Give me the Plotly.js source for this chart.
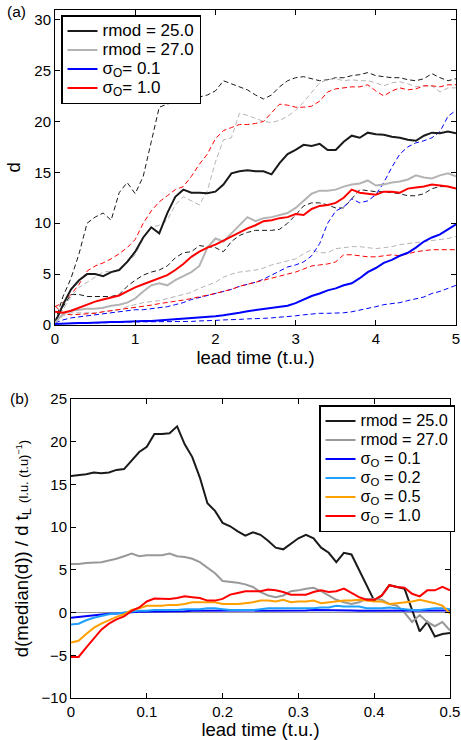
<!DOCTYPE html>
<html><head><meta charset="utf-8">
<script src="https://cdn.plot.ly/plotly-3.0.1.min.js"></script>
<style>html,body{margin:0;padding:0;background:#fff}#chart{width:461px;height:740px}</style>
</head><body><div id="chart"></div>
<script>
// ---------- panel (a): d vs lead time ----------
const tA = [0,0.1,0.2,0.3,0.4,0.5,0.6,0.7,0.8,0.9,1.0,1.1,1.2,1.3,1.4,1.5,1.6,1.7,1.8,1.9,2.0,2.1,2.2,2.3,2.4,2.5,2.6,2.7,2.8,2.9,3.0,3.1,3.2,3.3,3.4,3.5,3.6,3.7,3.8,3.9,4.0,4.1,4.2,4.3,4.4,4.5,4.6,4.7,4.8,4.9,5.0];

const rmod25Median = [0.2,2.0,3.5,4.4,5.0,5.0,4.8,5.2,5.4,6.2,7.2,8.6,9.6,9.0,11.0,12.6,13.3,13.0,13.0,12.95,13.1,13.8,14.9,15.1,15.2,15.1,15.1,14.8,15.9,16.8,17.2,17.7,17.6,17.8,17.2,17.2,18.0,18.6,18.4,18.9,18.75,18.7,18.5,18.4,18.2,18.1,18.6,18.9,18.85,19.0,18.85];
const rmod25Upper  = [0.3,2.8,4.6,7.0,10.0,10.6,11.0,10.3,13.0,14.0,12.9,14.6,18.0,21.4,21.7,22.0,22.4,22.3,22.4,22.6,23.0,24.0,23.7,23.4,23.1,22.6,22.2,22.6,23.4,24.0,24.3,24.4,24.2,24.0,24.1,24.3,24.3,24.5,24.6,24.8,24.5,24.4,24.3,24.3,24.1,24.0,24.2,24.7,24.3,24.0,24.2];
const rmod25Lower  = [0.3,1.8,3.0,3.0,2.8,2.8,2.8,2.8,3.0,3.8,4.4,4.9,5.2,5.4,5.8,6.6,7.1,7.2,7.8,7.7,7.6,7.2,8.2,8.8,9.1,9.3,9.3,9.3,9.4,10.0,10.8,11.7,12.0,12.0,11.8,11.5,11.5,12.4,13.3,13.2,13.1,13.1,13.0,12.9,12.7,12.7,12.9,13.4,13.6,13.6,13.4];

const rmod27Median = [0.2,1.1,1.4,1.5,1.6,1.6,1.7,1.9,2.0,2.2,2.6,3.3,3.9,4.1,3.9,4.4,4.8,5.2,5.8,7.6,8.5,8.2,9.0,9.8,10.6,10.2,10.5,10.6,10.8,11.0,11.5,12.2,12.9,13.2,13.2,13.3,13.6,13.8,13.9,14.2,13.7,13.8,14.0,14.1,14.3,14.7,14.5,14.4,14.7,14.9,14.6];
const rmod27Upper  = [0.4,1.5,2.8,3.7,4.2,4.7,5.2,5.3,5.4,6.1,6.9,8.5,9.6,9.8,10.3,11.8,12.6,12.2,11.8,13.2,16.0,18.2,18.4,20.8,20.6,20.3,20.0,19.9,20.1,20.5,21.1,21.9,22.9,23.8,24.1,24.2,24.0,24.1,24.0,24.0,23.8,23.5,23.8,23.9,23.7,23.4,23.5,23.5,22.9,23.3,23.3];
const rmod27Lower  = [0.3,0.9,1.2,1.2,1.2,1.2,1.3,1.4,1.5,1.8,2.0,2.2,2.3,2.4,2.6,2.8,3.0,3.2,3.6,3.9,4.2,4.7,5.0,5.2,5.3,5.4,5.6,5.9,6.1,6.3,6.5,7.0,7.4,7.1,7.1,7.5,7.6,7.7,7.7,7.6,7.5,7.6,7.7,7.9,8.0,8.1,8.2,8.3,8.4,8.5,8.7];

const sig01Median  = [0.1,0.15,0.15,0.2,0.2,0.25,0.25,0.3,0.3,0.35,0.35,0.4,0.4,0.45,0.5,0.55,0.6,0.7,0.75,0.8,0.85,0.95,1.05,1.2,1.35,1.45,1.55,1.65,1.75,1.9,2.15,2.5,2.85,3.1,3.4,3.6,3.9,4.1,4.6,5.2,5.6,6.1,6.4,6.8,7.1,7.6,8.2,8.6,8.9,9.4,9.9];
const sig01Upper   = [0.2,0.5,0.7,0.8,0.9,1.0,1.1,1.2,1.3,1.4,1.5,1.5,1.6,1.7,1.8,2.0,2.2,2.5,2.7,2.9,3.1,3.3,3.5,3.8,4.0,4.2,4.5,4.9,5.3,5.7,5.9,6.2,6.8,8.0,10.0,11.2,11.6,12.4,12.0,12.2,12.8,14.0,15.5,16.8,17.5,17.9,18.1,18.4,19.0,20.5,21.1];
const sig01Lower   = [0.1,0.15,0.15,0.2,0.2,0.2,0.25,0.25,0.25,0.3,0.3,0.3,0.3,0.3,0.3,0.3,0.35,0.35,0.4,0.4,0.45,0.5,0.5,0.55,0.6,0.6,0.65,0.7,0.75,0.8,0.9,1.0,1.1,1.15,1.15,1.15,1.2,1.3,1.45,1.6,1.8,2.0,2.1,2.2,2.4,2.6,2.75,3.1,3.3,3.6,3.9];

const sig10Median  = [1.3,1.2,1.4,1.7,2.0,2.3,2.5,2.7,2.9,3.3,3.7,4.0,4.3,4.6,4.9,5.4,6.0,6.7,7.2,7.6,7.9,8.3,8.7,9.1,9.5,9.8,10.2,10.3,10.5,10.6,10.9,10.8,11.4,11.7,11.8,12.0,12.5,13.3,13.0,12.9,12.8,13.1,13.1,13.0,13.4,13.5,13.6,13.8,13.7,13.6,13.4];
const sig10Upper   = [1.8,2.2,3.0,4.0,5.3,5.8,6.1,6.5,7.0,7.6,8.4,10.0,11.2,12.1,12.7,13.3,13.6,14.6,15.8,16.8,18.3,19.1,19.4,19.7,19.7,19.8,20.0,20.9,21.7,21.6,21.4,21.4,21.5,22.0,22.9,23.2,23.3,23.4,23.4,23.6,23.0,22.5,23.0,23.3,23.1,23.2,23.5,23.5,23.4,23.6,23.6];
const sig10Lower   = [1.9,1.1,1.0,1.05,1.1,1.15,1.3,1.4,1.5,1.6,1.7,1.8,1.95,2.1,2.2,2.3,2.45,2.6,2.75,2.9,3.1,3.3,3.5,3.8,4.0,4.2,4.4,4.6,4.8,5.0,5.2,5.5,5.8,5.9,6.0,6.2,6.9,6.9,6.8,6.7,6.7,6.8,6.9,6.8,7.0,7.2,7.3,7.4,7.4,7.4,7.4];

// ---------- panel (b): growth rate of the median ----------
const tB = [0,0.01,0.02,0.03,0.04,0.05,0.06,0.07,0.08,0.09,0.10,0.11,0.12,0.13,0.14,0.15,0.16,0.17,0.18,0.19,0.20,0.21,0.22,0.23,0.24,0.25,0.26,0.27,0.28,0.29,0.30,0.31,0.32,0.33,0.34,0.35,0.36,0.37,0.38,0.39,0.40,0.41,0.42,0.43,0.44,0.45,0.46,0.47,0.48,0.49,0.50];

const rateRmod25 = [16.0,16.1,16.2,16.4,16.3,16.4,16.7,16.8,17.8,18.8,19.4,20.9,20.9,21.0,21.8,19.7,18.2,15.8,12.8,11.9,10.5,10.1,9.5,9.0,9.4,9.1,8.4,7.6,7.4,8.0,8.7,9.1,8.7,7.6,7.0,5.9,7.0,6.8,5.0,3.2,1.4,2.0,3.2,3.0,2.8,0.3,-2.2,-1.1,-2.8,-2.5,-2.4];
const rateRmod27 = [5.7,5.7,5.8,5.85,5.9,6.1,6.3,6.6,6.9,6.6,6.7,6.7,6.7,6.9,6.6,6.5,6.3,5.9,5.3,4.6,3.7,3.6,3.5,3.3,3.0,2.4,2.0,1.8,2.0,2.5,2.6,2.8,2.9,2.5,2.0,1.5,1.2,1.0,1.2,1.6,1.6,1.5,1.0,0.8,0.0,-1.1,-0.3,-1.1,-1.6,-1.1,-2.1];
const rateSig01  = [-0.6,-0.5,-0.4,-0.3,-0.2,-0.15,-0.1,0.0,0.05,0.1,0.1,0.1,0.15,0.15,0.15,0.15,0.2,0.2,0.2,0.2,0.2,0.2,0.2,0.2,0.2,0.2,0.25,0.25,0.25,0.25,0.2,0.25,0.3,0.3,0.25,0.25,0.25,0.25,0.2,0.2,0.2,0.2,0.2,0.25,0.25,0.25,0.25,0.2,0.2,0.2,0.25];
const rateSig02  = [-1.4,-1.3,-0.9,-0.6,-0.4,-0.2,-0.1,0.0,0.1,0.2,0.2,0.3,0.3,0.3,0.3,0.4,0.4,0.4,0.5,0.5,0.4,0.3,0.3,0.3,0.3,0.4,0.5,0.5,0.5,0.5,0.5,0.5,0.5,0.6,0.6,0.8,0.7,0.7,0.7,0.5,0.5,0.5,0.6,0.5,0.4,0.3,0.3,0.4,0.5,0.5,0.4];
const rateSig05  = [-3.5,-3.3,-2.5,-1.8,-1.3,-0.9,-0.5,-0.2,0.3,0.5,0.8,0.8,0.8,0.9,0.9,1.0,1.2,1.2,1.2,1.2,1.0,1.0,1.0,1.1,1.2,1.4,1.4,1.3,1.5,1.2,1.3,1.3,1.4,1.1,1.2,1.3,1.4,1.4,1.5,1.4,1.3,1.3,1.0,1.1,1.2,1.3,1.5,1.3,1.1,0.8,-0.1];
const rateSig10  = [-5.2,-5.2,-4.1,-3.0,-2.0,-1.3,-0.8,-0.45,0.2,0.6,1.3,1.65,1.65,1.6,1.7,1.9,1.8,1.7,1.4,1.4,1.6,2.1,2.3,2.5,2.5,2.5,2.7,2.6,2.4,2.1,2.1,2.1,2.4,2.6,2.4,2.5,2.8,2.3,1.8,1.5,1.5,2.0,3.2,3.0,2.9,2.2,1.9,2.6,2.6,3.0,2.6];

const namesA = ['rmod = 25.0','rmod = 27.0','σ<sub>O</sub>= 0.1','σ<sub>O</sub>= 1.0'];
const namesB = ['rmod = 25.0','rmod = 27.0','σ<sub>O</sub> = 0.1','σ<sub>O</sub> = 0.2','σ<sub>O</sub> = 0.5','σ<sub>O</sub> = 1.0'];

const W = 461, H = 740;
const FONT = '"Liberation Sans", Arial, Helvetica, sans-serif';
const BLACK = '#1a1a1a', GRAYA = '#b4b4b4', GRAYB = '#999999', BLUE = '#0000ff', RED = '#ff0000', LBLUE = '#1ea0ff', ORANGE = '#ffa000';
const sized = (s, px) => '<span style="font-size:' + px + 'px">' + s + '</span>';

function dashed(y, color){
  return {x: tA, y: y, type:'scatter', mode:'lines', xaxis:'x', yaxis:'y', showlegend:false, hoverinfo:'skip',
          line:{color:color, width:1, dash:'5px,3px'}};
}
function solidA(y, color, name){
  return {x: tA, y: y, type:'scatter', mode:'lines', xaxis:'x', yaxis:'y', name:sized(name, 17), legend:'legend',
          line:{color:color, width:2}};
}
function solidB(y, color, name){
  return {x: tB, y: y, type:'scatter', mode:'lines', xaxis:'x2', yaxis:'y2', name:sized(name, 16.3), legend:'legend2',
          line:{color:color, width:2}};
}

const traces = [
  dashed(rmod25Upper, BLACK), dashed(rmod25Lower, BLACK),
  dashed(rmod27Upper, GRAYA), dashed(rmod27Lower, GRAYA),
  dashed(sig01Upper, BLUE), dashed(sig01Lower, BLUE),
  dashed(sig10Upper, RED), dashed(sig10Lower, RED),
  solidA(rmod25Median, BLACK, namesA[0]),
  solidA(rmod27Median, GRAYA, namesA[1]),
  solidA(sig01Median, BLUE, namesA[2]),
  solidA(sig10Median, RED, namesA[3]),
  solidB(rateRmod25, BLACK, namesB[0]),
  solidB(rateRmod27, GRAYB, namesB[1]),
  solidB(rateSig01, BLUE, namesB[2]),
  solidB(rateSig02, LBLUE, namesB[3]),
  solidB(rateSig05, ORANGE, namesB[4]),
  solidB(rateSig10, RED, namesB[5])
];

const axBase = {ticks:'inside', ticklen:5, tickwidth:1, tickcolor:'#000', showline:true, mirror:'ticks',
  linecolor:'#000', linewidth:1, showgrid:false, zeroline:false, automargin:false,
  tickfont:{family:FONT, size:15, color:'#000'}};

const layout = {
  width: W, height: H,
  margin:{l:0, r:0, t:0, b:0},
  paper_bgcolor:'#fff', plot_bgcolor:'#fff',
  font:{family:FONT, size:15, color:'#000'},
  showlegend:true,
  xaxis: Object.assign({}, axBase, {domain:[55/W, 456/W], range:[0,5], tick0:0, dtick:1, anchor:'y',
    title:{text:'lead time (t.u.)', font:{size:18.5}, standoff:1}}),
  yaxis: Object.assign({}, axBase, {domain:[1-325/H, 1-9.5/H], range:[0,31], tick0:0, dtick:5, anchor:'x',
    title:{text:'d', font:{size:18.5}, standoff:8}}),
  xaxis2: Object.assign({}, axBase, {domain:[71/W, 450/W], range:[0,0.5], tick0:0, dtick:0.1, anchor:'y2',
    title:{text:'lead time (t.u.)', font:{size:18.5}, standoff:0}}),
  yaxis2: Object.assign({}, axBase, {domain:[1-698/H, 1-399/H], range:[-10,25], tick0:-10, dtick:5, anchor:'x2',
    zeroline:true, zerolinecolor:'#999999', zerolinewidth:1.5,
    title:{text:'d(median(d)) / d t<sub>L</sub> <span style="font-size:13px">(l.u. (t.u)<sup>−1</sup>)</span>', font:{size:18.5}, standoff:8}}),
  legend:{x:61/W, y:1-15/H, xanchor:'left', yanchor:'top', bgcolor:'#fff', bordercolor:'#000', borderwidth:1.5,
    font:{family:FONT, size:12.3, color:'#000'}, tracegroupgap:0, itemwidth:30},
  legend2:{x:455/W, y:1-405/H, xanchor:'right', yanchor:'top', bgcolor:'#fff', bordercolor:'#000', borderwidth:1.5,
    font:{family:FONT, size:12, color:'#000'}, tracegroupgap:0, itemwidth:30},
  annotations:[
    {text:'(a)', xref:'paper', yref:'paper', x:5/W, y:1-1/H, xanchor:'left', yanchor:'top', showarrow:false, font:{family:FONT, size:15.5, color:'#000'}},
    {text:'(b)', xref:'paper', yref:'paper', x:8/W, y:1-388/H, xanchor:'left', yanchor:'top', showarrow:false, font:{family:FONT, size:15.5, color:'#000'}}
  ]
};

Plotly.newPlot('chart', traces, layout, {displayModeBar:false, staticPlot:true});
</script>
</body></html>
